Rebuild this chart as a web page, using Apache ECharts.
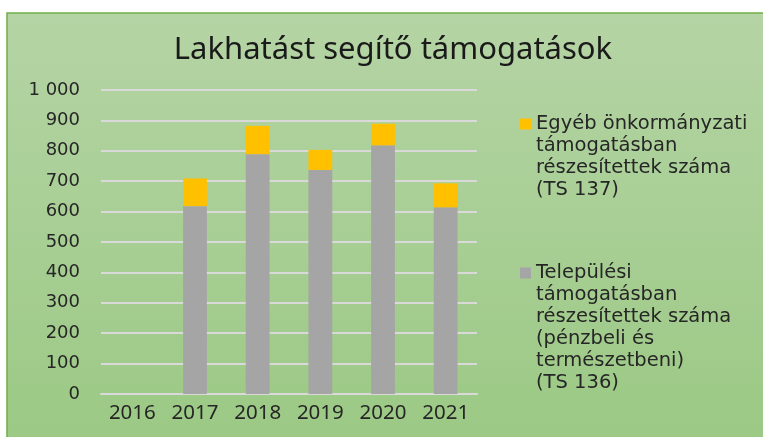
<!DOCTYPE html>
<html>
<head>
<meta charset="utf-8">
<script src="https://cdn.jsdelivr.net/npm/echarts@6/dist/echarts.min.js"></script>
<style>
  html, body { margin: 0; padding: 0; background: #fff; }
  #chart { width: 763px; height: 437px; }
</style>
</head>
<body>
<div id="chart"></div>
<script>
// adatok
var years = ['2016', '2017', '2018', '2019', '2020', '2021'];
var telepulesi = [0, 618, 789, 737, 818, 614];   // TS 136
var egyeb = [0, 91, 93, 66, 71, 79];             // TS 137
var yTicks = [0, 100, 200, 300, 400, 500, 600, 700, 800, 900, 1000];

var nameEgyeb = 'Egyéb önkormányzati\ntámogatásban\nrészesítettek száma\n(TS 137)';
var nameTelep = 'Települési\ntámogatásban\nrészesítettek száma\n(pénzbeli és\ntermészetbeni)\n(TS 136)';

var LH = 22;

var myChart = echarts.init(document.getElementById('chart'));

// jelmagyarázat: az ikon az első sorhoz igazodjon (üres sorok elé)
function legendFor(name, iconY) {
  var lines = name.split('\n').length;
  return {
    data: [name],
    orient: 'vertical',
    left: 520,
    top: iconY - (2 * lines - 1) * LH / 2,
    padding: 0,
    itemWidth: 11,
    itemHeight: 11,
    itemGap: 0,
    icon: 'rect',
    formatter: function (n) {
      return new Array(lines).join('\n') + n;
    },
    textStyle: {
      fontFamily: 'DejaVu Sans',
      fontSize: 19.5,
      color: '#262626',
      lineHeight: LH
    }
  };
}

var option = {
  backgroundColor: '#ffffff',
  animation: false,
  graphic: [{
    type: 'rect',
    z: -100,
    shape: { x: 7, y: 13, width: 760, height: 430 },
    style: {
      fill: new echarts.graphic.LinearGradient(0, 0, 0, 1, [
        { offset: 0, color: '#b5d4a5' },
        { offset: 1, color: '#9bc984' }
      ]),
      stroke: '#70ad47',
      lineWidth: 1.5
    }
  }],
  title: {
    text: 'Lakhatást segítő támogatások',
    left: 388,
    top: 30,
    textAlign: 'center',
    textStyle: {
      fontFamily: 'Noto Sans',
      fontSize: 31,
      fontWeight: 'normal',
      color: '#1a1a1a'
    }
  },
  legend: [legendFor(nameEgyeb, 124), legendFor(nameTelep, 273)],
  grid: { left: 101, right: 286, top: 90, bottom: 43 },
  xAxis: {
    type: 'category',
    data: years,
    axisTick: { show: false },
    axisLine: { lineStyle: { color: '#d9d9d9', width: 2 } },
    axisLabel: {
      fontFamily: 'Noto Sans',
      fontSize: 20.5,
      color: '#262626',
      margin: 9
    }
  },
  yAxis: {
    type: 'value',
    min: yTicks[0],
    max: yTicks[yTicks.length - 1],
    interval: 100,
    axisLine: { show: false },
    axisTick: { show: false },
    splitLine: { lineStyle: { color: '#d9d9d9', width: 2 } },
    axisLabel: {
      fontFamily: 'DejaVu Sans',
      fontSize: 18,
      color: '#262626',
      margin: 21,
      formatter: function (v) {
        return v >= 1000 ? Math.floor(v / 1000) + ' ' + String(v % 1000).padStart(3, '0') : String(v);
      }
    }
  },
  series: [
    {
      name: nameTelep,
      type: 'bar',
      stack: 'total',
      barWidth: '38%',
      itemStyle: { color: '#a5a5a5' },
      data: telepulesi
    },
    {
      name: nameEgyeb,
      type: 'bar',
      stack: 'total',
      barWidth: '38%',
      itemStyle: { color: '#ffc000' },
      data: egyeb
    }
  ]
};

myChart.setOption(option);
</script>
</body>
</html>
